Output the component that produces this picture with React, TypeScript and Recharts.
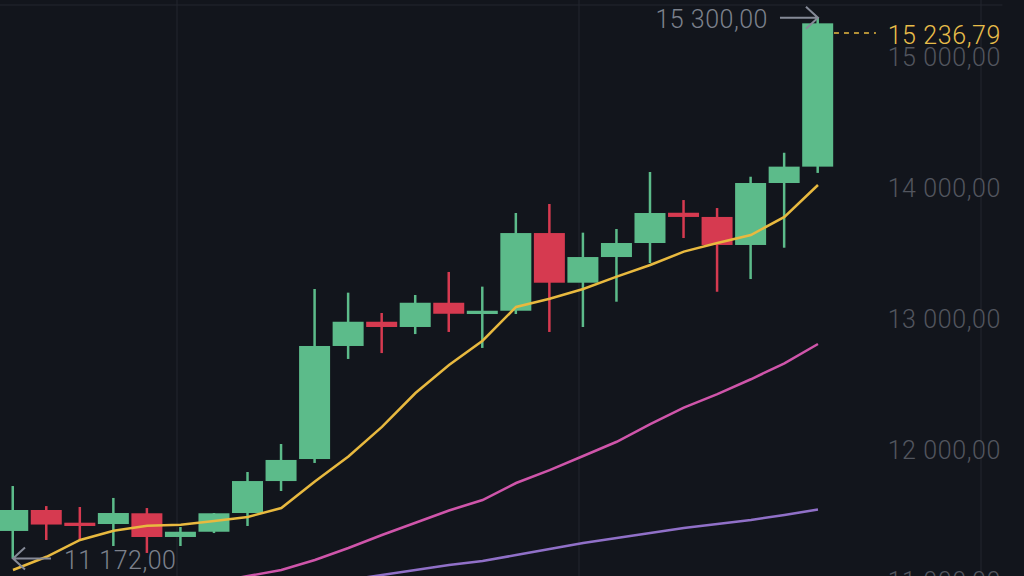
import { ComposedChart, Bar, Line, XAxis, YAxis, CartesianGrid, ReferenceDot } from 'recharts'

const highs = [11725, 11572, 11565, 11634, 11557, 11412, 11519, 11832, 12046, 13229, 13201, 13046, 13183, 13359, 13247, 13809, 13878, 13659, 13687, 14122, 13908, 13847, 14086, 14269, 15300]
const lows = [11172, 11313, 11313, 11267, 11214, 11267, 11366, 11420, 11687, 11901, 12695, 12740, 12885, 12901, 12779, 13038, 12901, 12939, 13132, 13427, 13618, 13208, 13305, 13544, 14115]
const opens = [11382, 11542, 11445, 11435, 11517, 11336, 11376, 11519, 11763, 11931, 12794, 12979, 12939, 13124, 13038, 13063, 13656, 13277, 13473, 13580, 13811, 13779, 13565, 14038, 14163]
const closes = [11542, 11431, 11420, 11519, 11336, 11376, 11517, 11763, 11924, 12794, 12979, 12939, 13124, 13040, 13063, 13656, 13277, 13473, 13580, 13809, 13779, 13565, 14038, 14163, 15257]
const ma7 = [11084, 11185, 11313, 11384, 11422, 11430, 11458, 11489, 11557, 11759, 11950, 12176, 12435, 12649, 12834, 13092, 13155, 13229, 13323, 13412, 13514, 13580, 13641, 13779, 14023]
const ma25 = [null, null, null, null, null, null, 10992, 11038, 11084, 11160, 11252, 11351, 11445, 11538, 11618, 11748, 11847, 11954, 12063, 12198, 12323, 12427, 12540, 12662, 12809]
const ma99 = [null, null, null, null, null, null, null, null, null, null, 11008, 11046, 11084, 11122, 11153, 11198, 11244, 11290, 11328, 11366, 11405, 11435, 11466, 11504, 11546]
const priceTicks = [11000, 12000, 13000, 14000, 15000]
const emptySlots = 5

const highLabel = '15 300,00'
const lowLabel = '11 172,00'
const lastLabel = '15 236,79'
const lastLineLevel = 15183

const BG = '#12151c'
const GREEN = '#5cbb8a'
const RED = '#d63a50'
const GRID = '#23262e'
const FONT = 'Roboto, sans-serif'

const rows = Array.from({ length: highs.length + emptySlots }, (_, i) =>
  i < highs.length
    ? { idx: i, range: [lows[i], highs[i]], open: opens[i], close: closes[i], ma7: ma7[i], ma25: ma25[i], ma99: ma99[i] }
    : { idx: i, range: null, open: null, close: null, ma7: null, ma25: null, ma99: null },
)

function Candle({ x, y, width, height, payload }: any) {
  if (!payload?.range) return null
  const [low, high] = payload.range
  const pxPerUnit = height / (high - low)
  const top = y + (high - Math.max(payload.open, payload.close)) * pxPerUnit
  const bottom = y + (high - Math.min(payload.open, payload.close)) * pxPerUnit
  const color = payload.close >= payload.open ? GREEN : RED
  const mid = x + width / 2
  return (
    <g>
      <line x1={mid} x2={mid} y1={y} y2={y + height} stroke={color} strokeWidth={2.5} />
      <rect x={x} y={top} width={width} height={Math.max(bottom - top, 2)} fill={color} />
    </g>
  )
}

function PriceTick({ y, payload }: any) {
  const text = payload.value.toLocaleString('fr-FR', { minimumFractionDigits: 2 }).replace(/\s/g, ' ')
  return (
    <text x={1001} y={y} dy={9} textAnchor="end" fill="#52565f" fontSize={25} fontWeight={300} letterSpacing={0.6} fontFamily={FONT}>
      {text}
    </text>
  )
}

function HighMark({ cx, cy }: any) {
  return (
    <g>
      <path d={`M${cx - 38} ${cy}H${cx}M${cx - 12} ${cy - 11}L${cx} ${cy}L${cx - 12} ${cy + 11}`} fill="none" stroke="#858a97" strokeWidth={2} />
      <text x={cx - 50} y={cy + 10} textAnchor="end" fill="#7c818c" fontSize={25} fontWeight={300} letterSpacing={0.5} fontFamily={FONT}>{highLabel}</text>
    </g>
  )
}

function LowMark({ cx, cy }: any) {
  return (
    <g>
      <path d={`M${cx + 38} ${cy}H${cx}M${cx + 12} ${cy - 11}L${cx} ${cy}L${cx + 12} ${cy + 11}`} fill="none" stroke="#858a97" strokeWidth={2} />
      <text x={cx + 51} y={cy + 11} textAnchor="start" fill="#7c818c" fontSize={25} fontWeight={300} letterSpacing={0.5} fontFamily={FONT}>{lowLabel}</text>
    </g>
  )
}

function LastMark({ cx, cy }: any) {
  return (
    <g>
      <line x1={cx + 16} x2={cx + 58} y1={cy} y2={cy} stroke="#e8b93f" strokeWidth={1.5} strokeDasharray="5 5" />
      <text x={1001} y={cy + 11} textAnchor="end" fill="#e8bd4a" fontSize={25} fontWeight={300} letterSpacing={0.6} fontFamily={FONT}>{lastLabel}</text>
    </g>
  )
}

export default function App() {
  return (
    <div style={{ position: 'absolute', left: 0, top: 0, width: 1024, height: 576, overflow: 'hidden', background: BG }}>
      <ComposedChart width={1024} height={600} data={rows} margin={{ top: 0, right: 21.57, bottom: 0, left: -3.77 }}>
        <CartesianGrid stroke={GRID} verticalPoints={[177, 579, 981]} horizontalPoints={[5]} />
        <XAxis dataKey="idx" hide />
        <YAxis
          orientation="right"
          mirror
          width={1}
          domain={[10855, 15435]}
          ticks={priceTicks}
          interval={0}
          axisLine={false}
          tickLine={false}
          tick={<PriceTick />}
        />
        <Bar dataKey="range" barSize={31} shape={<Candle />} isAnimationActive={false} />
        <Line dataKey="ma99" stroke="#9070c8" strokeWidth={2.5} dot={false} activeDot={false} isAnimationActive={false} />
        <Line dataKey="ma25" stroke="#cf55aa" strokeWidth={2.5} dot={false} activeDot={false} isAnimationActive={false} />
        <Line dataKey="ma7" stroke="#e8b93f" strokeWidth={2.5} dot={false} activeDot={false} isAnimationActive={false} />
        <ReferenceDot x={24} y={highs[24]} shape={<HighMark />} />
        <ReferenceDot x={0} y={lows[0]} shape={<LowMark />} />
        <ReferenceDot x={24} y={lastLineLevel} shape={<LastMark />} />
      </ComposedChart>
    </div>
  )
}
